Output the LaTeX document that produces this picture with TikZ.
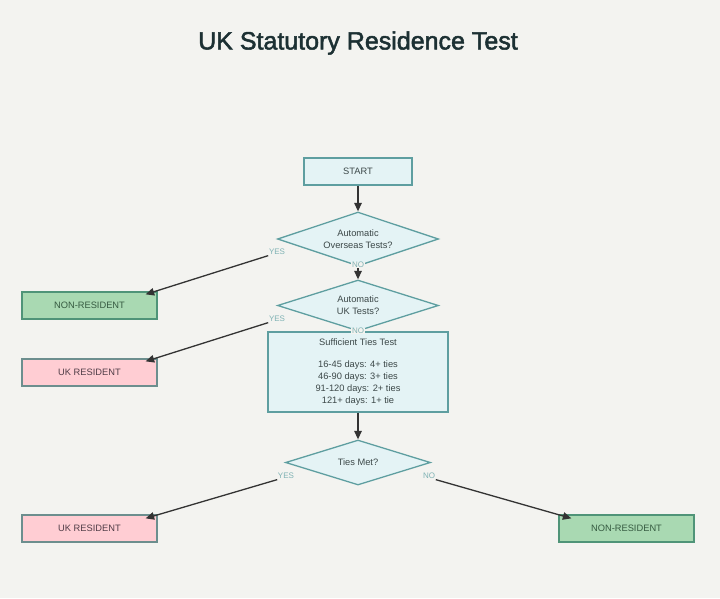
\documentclass[tikz,border=0pt]{standalone}
\usepackage{fontspec}
\setmainfont{Liberation Sans}
\newfontfamily\titlefont[FakeBold=2]{Liberation Sans}
\usetikzlibrary{shapes.geometric,arrows.meta,calc}
\definecolor{bg}{HTML}{F3F3F0}
\definecolor{cyanfill}{HTML}{E4F3F5}
\definecolor{tealline}{HTML}{5E9EA0}
\definecolor{greenfill}{HTML}{A9D9B2}
\definecolor{greenline}{HTML}{4F9478}
\definecolor{pinkfill}{HTML}{FFCDD3}
\definecolor{pinkline}{HTML}{6C8E8E}
\definecolor{titlecol}{HTML}{1C3033}
\definecolor{textcol}{HTML}{3C4848}
\definecolor{labcol}{HTML}{7FB2B4}
\definecolor{arrowcol}{HTML}{333333}
\tikzset{
  titlestyle/.style={font=\titlefont\fontsize{25}{30}\selectfont, text=titlecol},
  procbox/.style={draw=tealline, fill=cyanfill, line width=1.3pt, inner sep=0pt,
    font=\fontsize{9.3}{12}\selectfont, text=textcol, align=center},
  decision/.style={diamond, draw=tealline, fill=cyanfill, line width=1.3pt, inner sep=0pt,
    aspect=3, font=\fontsize{9.3}{12}\selectfont, text=textcol, align=center},
  nonres/.style={draw=greenline, fill=greenfill, line width=1.3pt, inner sep=0pt,
    minimum width=135pt, minimum height=27pt, font=\fontsize{9.3}{12}\selectfont, text=textcol!90!green},
  ukres/.style={draw=pinkline, fill=pinkfill, line width=1.3pt, inner sep=0pt,
    minimum width=135pt, minimum height=27pt, font=\fontsize{9.3}{12}\selectfont, text=textcol!85!purple},
  edgelab/.style={font=\fontsize{8}{9}\selectfont, text=labcol, fill=bg, inner sep=0.6pt},
  conn/.style={draw=arrowcol, line width=1.3pt, -{Triangle[length=8.5pt,width=7.5pt]}}
}
\begin{document}
\begin{tikzpicture}[x=1pt,y=-1pt]
\useasboundingbox[fill=bg] (0,0) rectangle (720,598);

\node[titlestyle] (title) at (358,43) {UK Statutory Residence Test};

\node[procbox, minimum width=108pt, minimum height=27pt] (start) at (358,171.5) {START};
\node[decision, minimum width=161pt, minimum height=54pt] (d1) at (358,239) {Automatic\\Overseas Tests?};
\node[decision, minimum width=161pt, minimum height=51pt] (d2) at (358,305.5) {Automatic\\UK Tests?};
\node[procbox, minimum width=180pt, minimum height=80pt] (ties) at (358,372)
  {\raisebox{-2pt}{Sufficient Ties Test}\\[12pt]16-45 days: 4+ ties\\46-90 days: 3+ ties\\91-120 days: 2+ ties\\121+ days: 1+ tie};
\node[decision, minimum width=145pt, minimum height=45pt] (d3) at (358,462.5) {Ties Met?};

\node[nonres] (nr1) at (89.5,305.5) {NON-RESIDENT};
\node[ukres] (uk1) at (89.5,372.5) {UK RESIDENT};
\node[ukres] (uk2) at (89.5,528.5) {UK RESIDENT};
\node[nonres] (nr2) at (626.5,528.5) {NON-RESIDENT};

% connectors
\draw[conn] (start.south) -- (d1.north);
\draw[conn] (d1.south) -- (d2.north);
\draw[conn] (ties.south) -- (d3.north);

% labels
\node[edgelab] (yes1) at (277,252) {YES};
\node[edgelab] (no1) at (358,265) {NO};
\node[edgelab] (yes2) at (277,319) {YES};
\node[edgelab] (no2) at (358,331) {NO};
\node[edgelab] (yes3) at (286,476) {YES};
\node[edgelab] (no3) at (429,476) {NO};

\draw[conn] (yes1.south west) -- ($(nr1.north east)+(-12,3)$);
\draw[conn] (yes2.south west) -- ($(uk1.north east)+(-12,3)$);
\draw[conn] (yes3.south west) -- ($(uk2.north east)+(-12,4)$);
\draw[conn] (no3.south east) -- ($(nr2.north west)+(13,4)$);
\end{tikzpicture}
\end{document}
